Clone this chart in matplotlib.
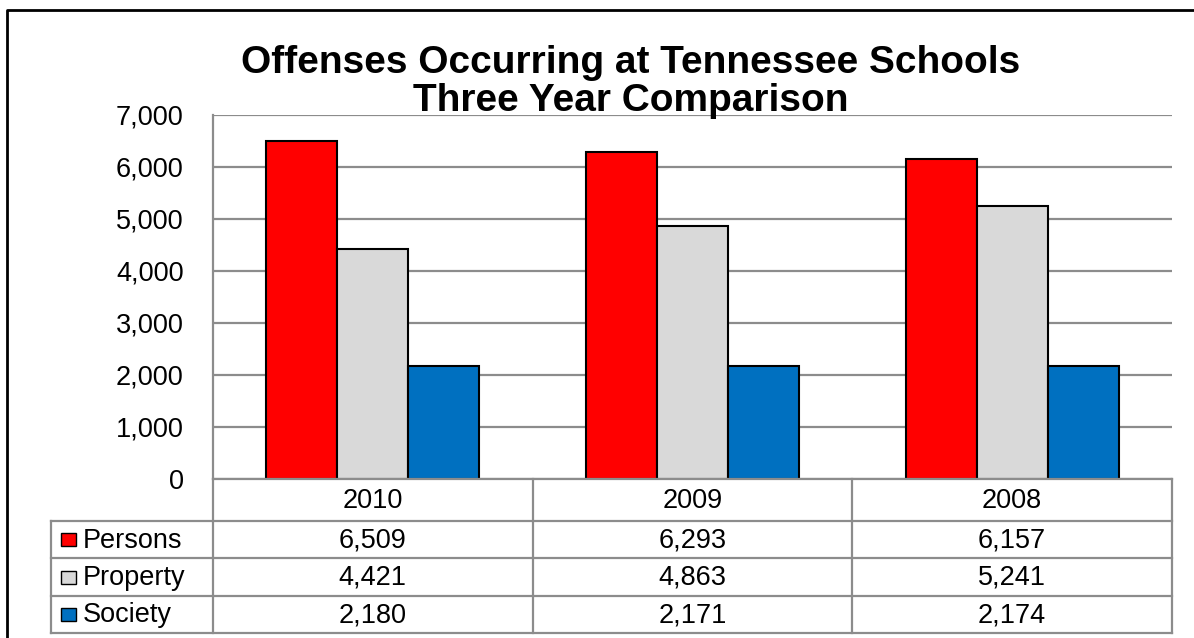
import matplotlib
matplotlib.use("Agg")
import matplotlib.pyplot as plt
from matplotlib.lines import Line2D
from matplotlib.patches import Rectangle
import numpy as np

plt.rcParams['font.family'] = ['Liberation Sans', 'DejaVu Sans']

years = ["2010", "2009", "2008"]
series_names = ["Persons", "Property", "Society"]
persons = [6509, 6293, 6157]
prop = [4421, 4863, 5241]
society = [2180, 2171, 2174]
series_values = [persons, prop, society]
colors = ["#FF0000", "#D9D9D9", "#0070C0"]
yticks = [0, 1000, 2000, 3000, 4000, 5000, 6000, 7000]
title = "Offenses Occurring at Tennessee Schools\nThree Year Comparison"

W, H = 1194, 638
fig = plt.figure(figsize=(W / 100, H / 100), dpi=100)
FS = 19.5

def fx(px):
    return px / W

def fy(py):
    return 1 - py / H

# plot area
L, T, R, B = 213, 115, 1172, 479
ax = fig.add_axes([fx(L), fy(B), fx(R) - fx(L), fy(T) - fy(B)])
n = len(years)
x = np.arange(n)
bw = 2 / 9
for i, (vals, c) in enumerate(zip(series_values, colors)):
    ax.bar(x + (i - 1) * bw, vals, width=bw, color=c, edgecolor="black",
           linewidth=1.5, zorder=3)
ax.set_xlim(-0.5, n - 0.5)
ax.set_ylim(0, 7000)
ax.set_yticks(yticks)
ax.set_yticklabels([f"{v:,}" for v in yticks], fontsize=FS)
ax.tick_params(axis="y", length=0, pad=21)
ax.set_xticks([])
ax.yaxis.grid(True, color="#8C8C8C", linewidth=1.6, zorder=0)
for s in ["right", "bottom", "top"]:
    ax.spines[s].set_visible(False)
ax.spines["left"].set_color("#8C8C8C")
ax.spines["left"].set_linewidth(1.6)

# data table
gc = "#8C8C8C"
lw = 1.6
rows_y = [479, 521, 558, 596, 633]
col_x = [L + (R - L) * k / n for k in range(n + 1)]
lab_left = 51

def hline(x0, x1, y):
    fig.add_artist(Line2D([fx(x0), fx(x1)], [fy(y), fy(y)], color=gc, lw=lw))

def vline(x, y0, y1):
    fig.add_artist(Line2D([fx(x), fx(x)], [fy(y0), fy(y1)], color=gc, lw=lw))

hline(L, R, rows_y[0])
for y in rows_y[1:]:
    hline(lab_left, R, y)
for xc in col_x:
    vline(xc, rows_y[0], rows_y[-1])
vline(lab_left, rows_y[1], rows_y[-1])

for j, yr in enumerate(years):
    cx = (col_x[j] + col_x[j + 1]) / 2
    fig.text(fx(cx), fy((rows_y[0] + rows_y[1]) / 2 + 1), yr, ha="center",
             va="center", fontsize=FS)
for i, (name, vals, c) in enumerate(zip(series_names, series_values, colors)):
    cy = (rows_y[i + 1] + rows_y[i + 2]) / 2
    fig.add_artist(Rectangle((fx(61), fy(cy + 6.5)), fx(15), 13 / H,
                             facecolor=c, edgecolor="black", lw=1.0))
    fig.text(fx(83), fy(cy + 1), name, ha="left", va="center", fontsize=FS)
    for j, v in enumerate(vals):
        cx = (col_x[j] + col_x[j + 1]) / 2
        fig.text(fx(cx), fy(cy + 1), f"{v:,}", ha="center", va="center",
                 fontsize=FS)

# title
fig.text(fx(631), fy(82), title, ha="center", va="center", fontsize=28,
         fontweight="bold", linespacing=1.08)

# outer border
fig.add_artist(Line2D([fx(7), fx(7), fx(W)], [fy(H), fy(10), fy(10)],
                      color="black", lw=2))

fig.savefig("out.png", dpi=100, facecolor="white")
